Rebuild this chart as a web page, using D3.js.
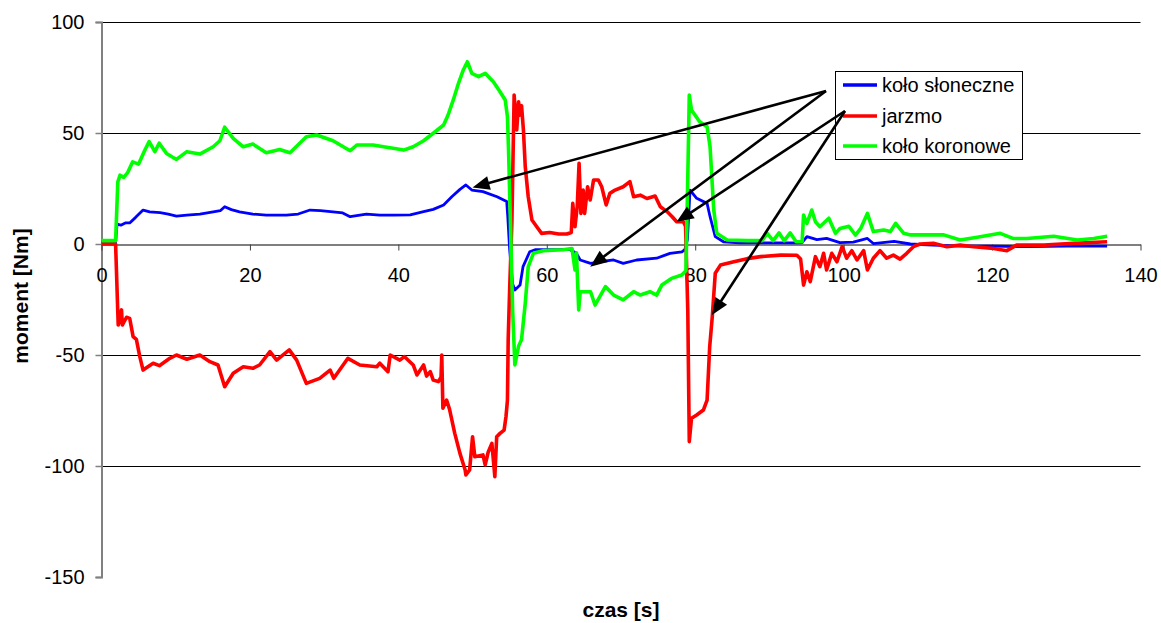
<!DOCTYPE html>
<html>
<head>
<meta charset="utf-8">
<script src="https://cdn.jsdelivr.net/npm/d3@7"></script>
<style>
  html, body { margin: 0; padding: 0; background: #fff; }
  svg { display: block; font-family: "Liberation Sans", Arial, sans-serif; }
</style>
</head>
<body>
<svg id="chart" width="1161" height="623"></svg>
<script>
// Torque on the planetary gear members over time
const xTicks = [0, 20, 40, 60, 80, 100, 120, 140];
const yTicks = [100, 50, 0, -50, -100, -150];
const seriesNames = ["koło słoneczne", "jarzmo", "koło koronowe"];
const seriesColors = ["#0000ff", "#ff0000", "#00ff00"];

// koło słoneczne (sun gear)
const sunT = [0, 1.9, 2.1, 2.6, 3.2, 3.8, 4.6, 5.6, 6.5, 7.9, 9.0, 10.1, 11.5, 13.25, 15.05, 16.0, 16.6, 17.5, 18.6, 20.4,
  22.2, 24.9, 26.5, 28.1, 29.5, 31.2, 32.5, 33.5, 35.7, 37.5, 39.3, 41.6, 43.4, 44.7, 46.1, 47.2, 48.3, 49.1, 49.9, 51.4,
  53.3, 54.6, 54.75, 55.0, 55.4, 55.7, 56.4, 56.8, 57.7, 58.5, 60.0, 62.0, 63.1, 64.0, 64.5, 65.9, 67.2, 69.0, 70.3, 72.1,
  74.8, 76.6, 78.2, 78.6, 78.95, 79.3, 80.2, 81.6, 82.0, 82.7, 83.8, 86, 90, 94.0, 94.4, 95.05, 96.4, 97.7, 99.5, 101.3,
  103.2, 104.0, 106.8, 109.0, 112, 116, 120, 125, 130, 135.5];
const sunV = [1, 1, 9, 8.5, 9.5, 9.5, 12, 15.3, 14.5, 14.1, 13.5, 12.6, 13, 13.5, 14.5, 15, 16.8, 15.5, 14.5, 13.5,
  13, 13, 13.5, 15.3, 15, 14.5, 14, 12.3, 13.5, 13, 13, 13.1, 14.6, 15.6, 17.6, 21.3, 24.6, 26.6, 24.3, 23.6,
  21.3, 19.1, 12, -2.7, -18, -20.7, -18.5, -10.2, -3.5, -2.5, -2.5, -2.5, -2.5, -4.2, -7.2, -8.7, -8, -7.2, -8.7, -7.2,
  -6.4, -4.2, -3.5, -2.5, 2, 24.3, 20.6, 18.3, 12.3, 3.3, 1, 0.5, 0.5, 0.5, 0.6, 3.3, 2, 2.5, 0.6, 0.8,
  2.5, 0.2, 1.2, 0, -0.5, -1, -1, -1.2, -1, -1];

// jarzmo (carrier)
const carT = [0, 1.9, 2.25, 2.7, 2.8, 3.37, 3.8, 4.26, 4.7, 5.16, 5.6, 6.96, 7.8, 9.2, 10.1, 11.5, 13.25, 14.6, 15.7, 16.6,
  17.75, 19.1, 20.4, 21.3, 22.7, 23.6, 25.3, 26.3, 27.6, 29.4, 30.8, 31.3, 33.2, 34.8, 37.1, 37.5, 38.6, 38.9, 40.2, 40.8,
  42.0, 42.5, 43.4, 43.8, 44.3, 44.7, 45.4, 45.75, 45.85, 46.0, 46.5, 46.9, 47.6, 48.3, 49.0, 49.1, 49.6, 50.0, 50.3, 51.4,
  51.7, 52.1, 52.6, 53.0, 53.25, 53.7, 54.25, 54.5, 54.7, 54.8, 55.0, 55.3,
  55.6, 55.95, 56.2, 56.35, 56.6, 56.85, 57.1, 57.5, 58.0, 58.65, 59.3, 60.4, 61.6, 62.7, 63.3, 63.5, 63.8, 64.1, 64.35, 64.6,
  64.9, 65.1, 65.5, 65.85, 66.3, 66.95, 67.4, 68.0, 68.5, 69.2, 70.3, 71.2, 71.7, 72.6, 73.5, 74.6, 75.3, 76.2, 76.9, 77.5,
  78.4, 78.7, 79.0, 79.2, 79.5, 80.2, 81.1, 81.6, 81.95, 82.3, 82.7, 83.4, 85.2, 87.0, 88.8, 91.5, 93.7, 94.2, 94.6, 95.05,
  95.5, 96.2, 96.8, 97.3, 97.7, 98.4, 99.1, 99.8, 100.4, 101.1, 101.8, 102.7, 103.2, 104.0, 104.9, 105.8, 106.7, 107.6, 108.5, 109.4,
  110.3, 112.1, 113.9, 115.7, 117.5, 120.2, 122.0, 123.3, 127.0, 131.0, 135.5];
const carV = [0, 0, -36.5, -29.7, -36.5, -33, -33.5, -41.7, -43, -50.7, -56.8, -53.7, -54.8, -51.5, -50, -51.9, -50, -53, -54.5, -64.3,
  -58.2, -55.3, -56, -54.5, -48.5, -52.3, -47.7, -52.3, -62.8, -60.5, -56.8, -60.5, -51.5, -54.5, -55.3, -53.7, -57.5, -50, -52.3, -50.7,
  -54.5, -59, -54.5, -59.5, -57.5, -61.3, -62, -60, -50, -74, -70.3, -74.5, -85.3, -94.3, -101.8, -104, -101.8, -86.8, -95.8, -95,
  -99.5, -93.8, -89.8, -104.8, -86.8, -85.3, -83.8, -77.8, -70.3, -43, -20, 10,
  67.1, 51.4, 64, 58, 62.3, 51.4, 34.8, 21.3, 10.8, 7.8, 4.8, 5.2, 4.5, 4.5, 5.2, 18.3, 7.8, 16.8, 36.3, 13.8,
  24.3, 13.8, 25.8, 19.8, 28.8, 28.8, 25.8, 17.6, 22.8, 24.3, 25.8, 28.1, 21.3, 22, 20.5, 21.6, 16.8, 14.6, 12.3, 10,
  10, 8, -30, -89, -78.5, -77, -74.8, -70.3, -46.3, -32.7, -13.2, -9.5, -8, -6.6, -5.7, -5, -5.1, -6.8, -18.5, -12.5,
  -17, -5.7, -10.2, -4.2, -11.7, -4.2, -8, -1.2, -6.4, -3, -7.2, -3, -11.7, -6.4, -3, -6.4, -5, -6.8, -4.2, -1.2,
  0, 0.3, -1.2, -0.5, -1.2, -2, -3, -0.5, -0.5, 0.3, 1];

// koło koronowe (ring gear)
const ringT = [0, 1.9, 2.2, 2.5, 3.0, 3.5, 4.2, 5.0, 5.8, 6.42, 7.19, 7.77, 8.76, 10.1, 11.5, 13.25, 15.05, 15.95, 16.6, 17.75,
  19.1, 20.4, 22.2, 24.0, 25.4, 27.6, 29.0, 31.2, 33.5, 34.4, 36.6, 38.0, 39.3, 40.7, 42.0, 43.4, 44.7, 46.1, 46.7, 47.4,
  48.1, 48.75, 49.3, 49.9, 50.8, 51.7, 52.8, 53.7, 54.4, 54.7, 54.85, 55.1, 55.4, 55.7, 56.2, 56.6, 57.1, 57.5, 58.2, 59.5,
  62.2, 63.4, 63.8, 64.0, 64.3, 64.5, 65.9, 66.5, 67.9, 69.0, 70.3, 71.7, 72.6, 73.9, 74.8, 75.5, 76.8, 78.2, 78.75, 79.0,
  79.2, 79.5, 80.6, 81.6, 82.0, 82.5, 82.9, 84.3, 87, 89.0, 89.7, 90.5, 91.3, 92.0, 92.8, 93.6, 94.4, 94.6, 95.05, 95.7,
  96.2, 96.8, 98.0, 98.9, 99.5, 100.7, 101.6, 102.3, 103.2, 104.0, 105.4, 106.3, 107.0, 108.1, 109.0, 111.2, 113.5, 115.7, 118.0, 121.1,
  122.8, 124.7, 128.3, 131.5, 133.7, 135.5];
const ringV = [1.5, 1.5, 28, 31, 30, 32, 37, 36, 42, 46.1, 41.6, 45.4, 40.8, 38.1, 41.6, 40.5, 43.8, 46.5, 52.6, 47.6,
  43.8, 45, 41.1, 42.6, 41.1, 48.3, 49.1, 46.5, 42, 44.6, 44.6, 43.8, 43.1, 42.3, 43.8, 46.5, 49.9, 53.6, 58.1, 64.9,
  72.4, 78.4, 82.1, 76.9, 75.4, 76.9, 73.1, 68.6, 64.9, 57.3, 42, 10, -30, -54.5, -46, -43, -26.7, -10.2, -4.2, -3,
  -2.6, -2, -11.7, -4, -29.7, -21.5, -21.5, -27.5, -19.2, -23, -25.2, -21.5, -23, -21.5, -23, -18.5, -15.5, -14, -12, 30,
  67.1, 60.4, 55.1, 52.8, 43.8, 15.3, 4.8, 1.8, 1.5, 1.5, 4.8, 1.5, 5, 1.5, 5, 1, 1, 13, 9.3, 15.3,
  10, 7.8, 11.6, 4.8, 7, 8, 4, 7, 13.8, 5.6, 6.3, 5.6, 9.3, 4.8, 4.1, 4.1, 4.1, 1.8, 3, 4.8,
  2.5, 2.5, 3.5, 1.8, 2.5, 3.5];

// Callout arrows: legend entry index and the point (time, torque) each one marks
const calloutSeries = [0, 0, 1, 1];
const calloutT = [50.0, 65.85, 77.5, 82.25];
const calloutV = [25.5, -10.2, 10.0, -32.0];

const svg = d3.select("#chart");
const x = d3.scaleLinear().domain([0, 140]).range([101.5, 1140.5]);
const y = d3.scaleLinear().domain([-150, 100]).range([577, 22]);
const fmt = d => String(d);

// horizontal gridlines
svg.append("g").selectAll("line")
  .data(yTicks.filter(v => v !== 0 && v !== -150))
  .join("line")
  .attr("x1", x(0)).attr("x2", x(140))
  .attr("y1", d => Math.round(y(d)) + 0.5).attr("y2", d => Math.round(y(d)) + 0.5)
  .attr("stroke", "#000").attr("stroke-width", 1);

// y axis
const yAxis = svg.append("g").attr("transform", `translate(${x(0)},0)`)
  .call(d3.axisLeft(y).tickValues(yTicks).tickSize(6).tickPadding(11).tickFormat(fmt));
yAxis.select(".domain").attr("stroke", "#808080").attr("stroke-width", 2);
yAxis.selectAll(".tick line").attr("stroke", "#808080").attr("stroke-width", 1.5);
yAxis.selectAll(".tick text").attr("font-size", 20).attr("fill", "#000")
  .attr("font-family", "Liberation Sans, Arial, sans-serif");

// x axis along zero
const xAxis = svg.append("g").attr("transform", `translate(0,${Math.round(y(0)) + 0.5})`)
  .call(d3.axisBottom(x).tickValues(xTicks).tickSize(6).tickSizeOuter(0).tickPadding(17).tickFormat(fmt));
xAxis.select(".domain").attr("stroke", "#000").attr("stroke-width", 1);
xAxis.selectAll(".tick line").attr("stroke", "#404040").attr("stroke-width", 1);
xAxis.selectAll(".tick text").attr("font-size", 20).attr("fill", "#000")
  .attr("font-family", "Liberation Sans, Arial, sans-serif");

// series lines
const line = d3.line().x(d => x(d[0])).y(d => y(d[1]));
const series = [
  d3.zip(sunT, sunV),
  d3.zip(carT, carV),
  d3.zip(ringT, ringV)
];
const widths = [2.8, 3.6, 3.6];
series.forEach((pts, i) => {
  svg.append("path").datum(pts)
    .attr("d", line)
    .attr("fill", "none")
    .attr("stroke", seriesColors[i])
    .attr("stroke-width", widths[i])
    .attr("stroke-linejoin", "round");
});

// axis titles
svg.append("text").attr("x", 621).attr("y", 617).attr("text-anchor", "middle")
  .attr("font-size", 21).attr("font-weight", "bold").text("czas [s]");
svg.append("text").attr("transform", "translate(28,296) rotate(-90)").attr("text-anchor", "middle")
  .attr("font-size", 21).attr("font-weight", "bold").text("moment [Nm]");

// legend
const lg = svg.append("g");
lg.append("rect").attr("x", 835.5).attr("y", 71.5).attr("width", 187).attr("height", 88)
  .attr("fill", "#fff").attr("stroke", "#000").attr("stroke-width", 1);
const rowY = [85, 116, 146];
seriesNames.forEach((name, i) => {
  lg.append("line").attr("x1", 843).attr("x2", 877).attr("y1", rowY[i]).attr("y2", rowY[i])
    .attr("stroke", seriesColors[i]).attr("stroke-width", 3.5);
  lg.append("text").attr("x", 882).attr("y", rowY[i] + 7).attr("font-size", 20).text(name);
});

// callout arrows from legend entries
const starts = [[826, 91], [845, 111]];
const ag = svg.append("g");
calloutT.forEach((t, i) => {
  const [sx, sy] = starts[calloutSeries[i]];
  const tx = x(t), ty = y(calloutV[i]);
  const dx = tx - sx, dy = ty - sy, len = Math.hypot(dx, dy);
  const ux = dx / len, uy = dy / len;
  const hl = 17, hw = 7;
  const bx = tx - ux * hl, by = ty - uy * hl;
  ag.append("line").attr("x1", sx).attr("y1", sy).attr("x2", bx + ux * 2).attr("y2", by + uy * 2)
    .attr("stroke", "#000").attr("stroke-width", 2.6);
  ag.append("polygon")
    .attr("points", [[tx, ty], [bx - uy * hw, by + ux * hw], [bx + uy * hw, by - ux * hw]].map(p => p.join(",")).join(" "))
    .attr("fill", "#000");
});
</script>
</body>
</html>
